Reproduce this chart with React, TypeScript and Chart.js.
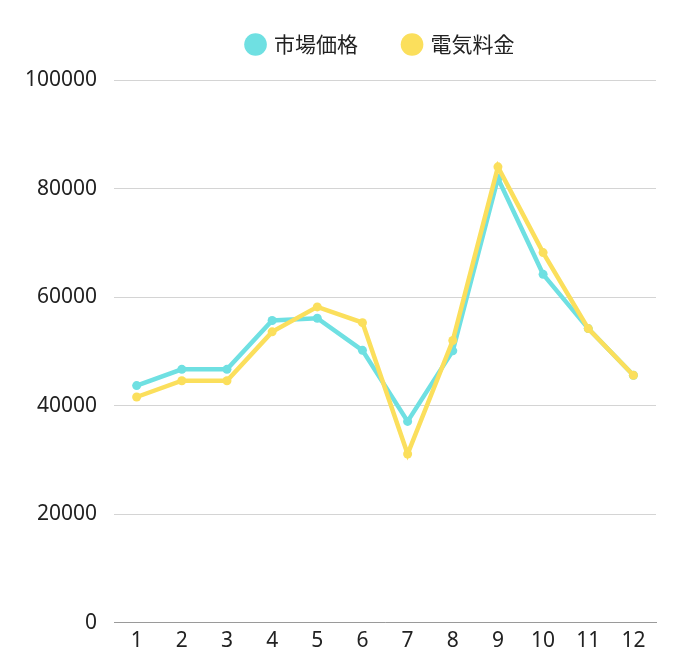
import { useEffect, useRef } from 'react';
import Chart from 'chart.js/auto';

const months = ['1', '2', '3', '4', '5', '6', '7', '8', '9', '10', '11', '12'];
const marketPrice = [43700, 46700, 46700, 55700, 56100, 50200, 37100, 50100, 81900, 64200, 54200, 45600];
const electricityFee = [41600, 44600, 44600, 53600, 58200, 55300, 31100, 52000, 84000, 68200, 54200, 45600];
const yTicks = [0, 20000, 40000, 60000, 80000, 100000];

const TICK_FONT = '"Noto Sans", "Open Sans", sans-serif';
const LEGEND_FONT = '"Noto Sans CJK JP", "Noto Sans", sans-serif';

// legend keeps wide gaps between items, stays short and sits over the plot area
const legendTweak = {
  id: 'legendTweak',
  beforeUpdate(chart: any) {
    const legend = chart.legend;
    if (!legend || legend._patched) return;
    const fit = legend.fit;
    legend.fit = function () {
      fit.call(this);
      this.height = 92;
    };
    legend._patched = true;
  },
  afterLayout(chart: any) {
    const legend = chart.legend;
    if (!legend) return;
    legend.left = chart.chartArea.left - 8;
    legend.right = chart.chartArea.right;
  },
};

export default function App() {
  const chartRef = useRef<HTMLCanvasElement | null>(null);
  const chartInstance = useRef<Chart | null>(null);

  useEffect(() => {
    if (!chartRef.current) return;
    if (chartInstance.current) chartInstance.current.destroy();

    chartInstance.current = new Chart(chartRef.current, {
      type: 'line',
      data: {
        labels: months,
        datasets: [
          {
            label: '市場価格',
            data: marketPrice,
            borderColor: '#6fe0e2',
            backgroundColor: '#6fe0e2',
            borderWidth: 4.5,
            pointRadius: 4.5,
            pointBackgroundColor: '#6fe0e2',
            pointBorderWidth: 0,
            order: 1,
          },
          {
            label: '電気料金',
            data: electricityFee,
            borderColor: '#fbdf5c',
            backgroundColor: '#fbdf5c',
            borderWidth: 4.5,
            pointRadius: 4.5,
            pointBackgroundColor: '#fbdf5c',
            pointBorderWidth: 0,
            order: 0,
          },
        ],
      },
      options: {
        animation: false,
        responsive: true,
        maintainAspectRatio: false,
        layout: { padding: { left: 0, right: 13, top: -20, bottom: 2 } },
        scales: {
          x: {
            offset: true,
            grid: { display: false, drawTicks: false },
            border: { display: true, color: '#9a9a9a', width: 1 },
            ticks: { color: '#222', padding: 6, font: { family: TICK_FONT, size: 21 } },
          },
          y: {
            min: 0,
            max: 100000,
            afterBuildTicks: (axis) => {
              axis.ticks = yTicks.map((v) => ({ value: v }));
            },
            grid: { color: '#d4d4d4', drawTicks: false },
            border: { display: false },
            ticks: {
              color: '#222',
              padding: 17,
              font: { family: TICK_FONT, size: 21 },
              callback: (v) => String(v),
            },
          },
        },
        plugins: {
          legend: {
            labels: {
              usePointStyle: true,
              pointStyle: 'circle',
              boxWidth: 16,
              boxHeight: 16,
              padding: 46,
              color: '#222',
              font: { family: LEGEND_FONT, size: 21 },
              sort: (a, b) => (a.datasetIndex ?? 0) - (b.datasetIndex ?? 0),
            },
          },
          tooltip: { enabled: false },
        },
      },
      plugins: [legendTweak],
    });

    return () => {
      if (chartInstance.current) {
        chartInstance.current.destroy();
        chartInstance.current = null;
      }
    };
  }, []);

  return (
    <div style={{ width: 661, height: 654 }}>
      <canvas ref={chartRef} />
    </div>
  );
}
